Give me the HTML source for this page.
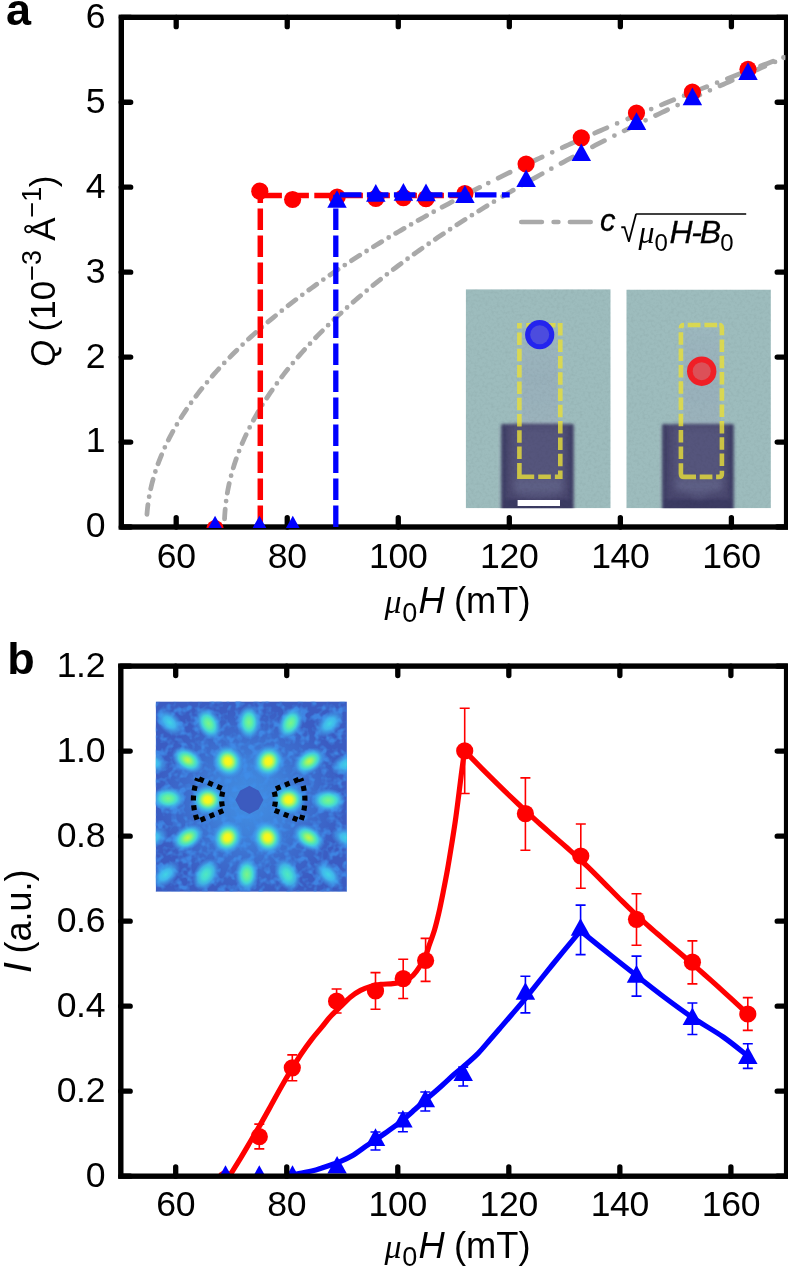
<!DOCTYPE html>
<html lang="en">
<head>
<meta charset="utf-8">
<title>Figure: Q and I versus magnetic field</title>
<style>
html,body{margin:0;padding:0;background:#fff;}
body{width:788px;height:1273px;overflow:hidden;font-family:"Liberation Sans", sans-serif;}
svg{display:block;}
</style>
</head>
<body>
<svg width="788" height="1273" viewBox="0 0 788 1273" font-family='"Liberation Sans", sans-serif'>
<defs>
<filter id="blur2" x="-20%" y="-20%" width="140%" height="140%"><feGaussianBlur stdDeviation="1.6"/></filter>
<filter id="blur3" x="-30%" y="-30%" width="160%" height="160%"><feGaussianBlur stdDeviation="3"/></filter>
<filter id="grain" x="0" y="0" width="100%" height="100%" color-interpolation-filters="sRGB">
<feTurbulence type="fractalNoise" baseFrequency="0.35" numOctaves="2" seed="7" result="n"/>
<feColorMatrix in="n" type="matrix" values="0 0 0 0 0  0 0 0 0 0  0 0 0 0 0  0.9 0 0 0 -0.38"/>
</filter>
<filter id="blur05" x="-10%" y="-10%" width="120%" height="120%"><feGaussianBlur stdDeviation="0.55"/></filter>
<linearGradient id="strip" x1="0" x2="0" y1="0" y2="1"><stop offset="0" stop-color="#9cb7be"/><stop offset="0.5" stop-color="#98b0ba"/><stop offset="0.9" stop-color="#9ab2bb"/><stop offset="1" stop-color="#a3b8bf"/></linearGradient>
<radialGradient id="haze"><stop offset="0" stop-color="#45a0ee" stop-opacity="0.75"/><stop offset="0.35" stop-color="#429aea" stop-opacity="0.6"/><stop offset="0.7" stop-color="#3f8ee4" stop-opacity="0.3"/><stop offset="1" stop-color="#3f8ee4" stop-opacity="0"/></radialGradient>
<radialGradient id="sp-y"><stop offset="0" stop-color="#fdf81a"/><stop offset="0.2" stop-color="#f2f622"/><stop offset="0.36" stop-color="#a4f464"/><stop offset="0.52" stop-color="#50e6c0" stop-opacity="0.96"/><stop offset="0.7" stop-color="#40c0ec" stop-opacity="0.75"/><stop offset="0.87" stop-color="#40a6f0" stop-opacity="0.35"/><stop offset="1" stop-color="#40a0f0" stop-opacity="0"/></radialGradient>
<radialGradient id="sp-g"><stop offset="0" stop-color="#7cf488"/><stop offset="0.28" stop-color="#5ceea8"/><stop offset="0.5" stop-color="#44dcd8" stop-opacity="0.94"/><stop offset="0.72" stop-color="#40b8f0" stop-opacity="0.65"/><stop offset="0.9" stop-color="#40a4f0" stop-opacity="0.25"/><stop offset="1" stop-color="#40a0f0" stop-opacity="0"/></radialGradient>
<radialGradient id="sp-h"><stop offset="0" stop-color="#c4f648"/><stop offset="0.2" stop-color="#98f46c"/><stop offset="0.4" stop-color="#58eaac"/><stop offset="0.58" stop-color="#42d4e0" stop-opacity="0.92"/><stop offset="0.76" stop-color="#40b4f0" stop-opacity="0.6"/><stop offset="0.9" stop-color="#40a4f0" stop-opacity="0.25"/><stop offset="1" stop-color="#40a0f0" stop-opacity="0"/></radialGradient>
<radialGradient id="sp-c"><stop offset="0" stop-color="#50e8c0"/><stop offset="0.3" stop-color="#44e0d4" stop-opacity="0.95"/><stop offset="0.6" stop-color="#40c4ec" stop-opacity="0.8"/><stop offset="0.82" stop-color="#40a8f0" stop-opacity="0.4"/><stop offset="1" stop-color="#40a0f0" stop-opacity="0"/></radialGradient>
<radialGradient id="sp-b"><stop offset="0" stop-color="#40d4e4"/><stop offset="0.4" stop-color="#40c0f0" stop-opacity="0.9"/><stop offset="0.75" stop-color="#40a4f0" stop-opacity="0.45"/><stop offset="1" stop-color="#40a0f0" stop-opacity="0"/></radialGradient>
<filter id="mottle" x="0" y="0" width="100%" height="100%" color-interpolation-filters="sRGB">
<feTurbulence type="fractalNoise" baseFrequency="0.14" numOctaves="2" seed="11" result="n"/>
<feColorMatrix in="n" type="matrix" values="0 0 0 0 0.25  0 0 0 0 0.56  0 0 0 0 0.92  3.4 0 0 0 -1.5"/>
</filter>
</defs>

<rect width="788" height="1273" fill="#fff"/>
<rect x="121.3" y="17.3" width="665.3" height="509.7" fill="none" stroke="#000" stroke-width="5.4" stroke-linejoin="miter"/>
<path d="M176.2 17.3V26.7M176.2 527V517.6M287.24 17.3V26.7M287.24 527V517.6M398.28 17.3V26.7M398.28 527V517.6M509.32 17.3V26.7M509.32 527V517.6M620.36 17.3V26.7M620.36 527V517.6M731.4 17.3V26.7M731.4 527V517.6M121.3 527H130.7M786.6 527H777.2M121.3 442.05H130.7M786.6 442.05H777.2M121.3 357.1H130.7M786.6 357.1H777.2M121.3 272.15H130.7M786.6 272.15H777.2M121.3 187.2H130.7M786.6 187.2H777.2M121.3 102.25H130.7M786.6 102.25H777.2M121.3 17.3H130.7M786.6 17.3H777.2" fill="none" stroke="#000" stroke-width="5.3" stroke-linecap="round"/>
<clipPath id="clip-a"><rect x="121.3" y="17.3" width="664" height="510.7"/></clipPath>
<g id="panel-a" clip-path="url(#clip-a)">
<path d="M146.96 514.31L147.23 511.09L147.55 507.87L147.94 504.66M149.16 496.65h0.01M150.73 488.71L151.46 485.55L152.24 482.4L153.08 479.27M155.39 471.51h0.01M158.02 463.84L159.16 460.81L160.34 457.79L161.57 454.79M164.82 447.37h0.01M168.33 440.07L169.81 437.18L171.32 434.31L172.87 431.46M176.89 424.43h0.01M181.13 417.53L182.88 414.8L184.65 412.08L186.46 409.39M191.1 402.75h0.01M195.91 396.23L197.88 393.65L199.87 391.09L201.88 388.55M207.01 382.28h0.01M212.27 376.12L214.41 373.69L216.57 371.27L218.75 368.87M224.27 362.94h0.01M229.9 357.11L232.18 354.8L234.47 352.51L236.78 350.24M242.61 344.62h0.01M248.53 339.08L250.92 336.89L253.33 334.72L255.75 332.56M261.83 327.21h0.01M267.99 321.95L270.47 319.86L272.97 317.79L275.47 315.73M281.77 310.63h0.01M288.12 305.61L290.68 303.62L293.25 301.64L295.83 299.67M302.3 294.79h0.01M308.82 289.99L311.44 288.08L314.07 286.18L316.71 284.29M323.32 279.62h0.01M329.98 275.01L332.66 273.18L335.34 271.35L338.03 269.54M344.77 265.05h0.01M351.55 260.61L354.27 258.85L357 257.09L359.73 255.35M366.58 251.02h0.01M373.45 246.74L376.22 245.04L378.98 243.35L381.75 241.66M388.69 237.48h0.01M395.66 233.35L398.46 231.71L401.26 230.07L404.06 228.44M411.08 224.4h0.01M418.12 220.4L420.95 218.81L423.78 217.22L426.61 215.64M433.7 211.73h0.01M442.1 207.15L445.47 205.33L448.85 203.52L452.23 201.72M460.68 197.25h0.01M469.27 192.78L472.72 191L476.16 189.23L479.62 187.46M488.26 183.09h0.01M498.18 178.13L501.16 176.65L504.15 175.18L507.14 173.71L510.13 172.25M520.11 167.42h0.01M530.12 162.63L533.13 161.21L536.14 159.79L539.15 158.37L542.17 156.96M552.22 152.28h0.01M562.3 147.66L565.33 146.28L568.36 144.9L571.4 143.53L574.44 142.16M584.56 137.64h0.01M594.7 133.15L597.75 131.82L600.8 130.48L603.86 129.15L606.91 127.83M617.1 123.43h0.01M627.73 118.9L630.92 117.55L634.12 116.2L637.32 114.85L640.52 113.51M651.19 109.07h0.01M661.45 104.85L664.53 103.58L667.61 102.33L670.7 101.07L673.78 99.82M684.07 95.67h0.01M694.37 91.56L697.46 90.33L700.56 89.11L703.66 87.89L706.76 86.67M717.08 82.63h0.01M727.42 78.62L730.53 77.42L733.64 76.22L736.75 75.03L739.86 73.84M750.22 69.9h0.01M760.6 65.99L763.72 64.82L766.84 63.66L769.96 62.49L773.08 61.33M783.48 57.48h0.01M793.89 53.66L797.35 52.4L800.8 51.14" fill="none" stroke="#a9a9a9" stroke-width="4.8" stroke-linecap="round" stroke-linejoin="round"/>
<path d="M224.56 518.8L224.72 515.57L224.94 512.34L225.21 509.12M226.1 501.08h0.01M227.32 493.08L227.9 489.89L228.52 486.71L229.2 483.54M231.1 475.68h0.01M233.29 467.89L234.24 464.79L235.24 461.71L236.29 458.65M239.08 451.05h0.01M242.12 443.56L243.41 440.58L244.73 437.63L246.09 434.69M249.64 427.42h0.01M253.4 420.25L254.97 417.42L256.56 414.6L258.18 411.79M262.37 404.87h0.01M266.73 398.05L268.52 395.35L270.33 392.67L272.17 390.01M276.88 383.42h0.01M281.72 376.94L283.7 374.38L285.7 371.83L287.72 369.29M292.84 363.03h0.01M298.08 356.87L300.21 354.43L302.36 352L304.52 349.59M310 343.63h0.01M315.57 337.76L317.82 335.44L320.09 333.13L322.37 330.83M328.13 325.15h0.01M333.97 319.54L336.33 317.32L338.7 315.11L341.08 312.92M347.08 307.49h0.01M353.14 302.13L355.58 300L358.04 297.89L360.5 295.79M366.7 290.58h0.01M372.95 285.45L375.47 283.41L377.99 281.38L380.53 279.36M386.89 274.37h0.01M393.3 269.43L395.88 267.47L398.47 265.52L401.06 263.58M407.57 258.77h0.01M414.12 254.02L416.75 252.13L419.39 250.25L422.03 248.38M428.67 243.75h0.01M435.33 239.16L438.01 237.34L440.69 235.53L443.38 233.72M450.12 229.24h0.01M456.89 224.81L459.61 223.05L462.33 221.3L465.06 219.55M471.89 215.22h0.01M478.75 210.92L481.51 209.22L484.26 207.52L487.03 205.83M493.94 201.63h0.01M502.68 196.39L505.31 194.83L507.94 193.28L510.58 191.73L513.22 190.19M522.04 185.09h0.01M531.15 179.89L533.9 178.34L536.65 176.8L539.4 175.26L542.15 173.72M551.34 168.65h0.01M561.05 163.37L563.98 161.79L566.9 160.22L569.83 158.66L572.76 157.1M582.55 151.94h0.01M592.47 146.78L595.45 145.24L598.44 143.71L601.43 142.18L604.42 140.66M614.41 135.61h0.01M624.11 130.78L627.02 129.33L629.94 127.89L632.87 126.46L635.79 125.03M645.54 120.29h0.01M655.54 115.49L658.54 114.06L661.55 112.63L664.56 111.21L667.57 109.79M677.62 105.09h0.01M687.68 100.43L690.71 99.04L693.74 97.65L696.76 96.27L699.8 94.89M709.9 90.32h0.01M720.02 85.79L723.07 84.44L726.11 83.09L729.16 81.74L732.21 80.4M742.37 75.96h0.01M752.54 71.55L755.6 70.23L758.66 68.92L761.72 67.61L764.78 66.3M774.99 61.97h0.01M785.22 57.67L788.29 56.39L791.36 55.11L794.44 53.83L797.51 52.55M800.8 51.19h0.01" fill="none" stroke="#a9a9a9" stroke-width="4.8" stroke-linecap="round" stroke-linejoin="round"/>
<clipPath id="clip-l"><rect x="465.7" y="289.2" width="145" height="219.1"/></clipPath>
<g id="sem-l" clip-path="url(#clip-l)">
<rect x="465.7" y="289.2" width="145" height="219.1" fill="#9dbcbd"/>
<rect x="521.4" y="328.2" width="36.9" height="99.6" fill="url(#strip)" filter="url(#blur2)"/>
<g filter="url(#blur2)">
<rect x="501.3" y="424" width="72.2" height="97.5" rx="2.5" fill="#48476e"/>
<rect x="501.3" y="424" width="5" height="97.5" fill="#403f66"/>
<rect x="568.5" y="424" width="5" height="97.5" fill="#403f66"/>
<rect x="503.3" y="499.3" width="68.2" height="14" fill="#3b3a62"/>
</g>
<g filter="url(#blur3)">
<path d="M512.8 426.8V488.3Q512.8 497.3 538.4 497.8Q564 497.3 564 488.3V426.8Z" fill="#55547b"/>
<rect x="514.8" y="480.3" width="47.2" height="11" fill="#62638a" opacity="0.8"/>
</g>
<rect x="465.7" y="289.2" width="145" height="219.1" filter="url(#grain)" opacity="0.10"/>
<path d="M519.4 328.4V325.2H521.8M557.7 325.2H560.3V335.5M519.4 463.1V476.7H534.2M560.3 470.5V476.7H554.9M519.4 332.5v12.5M519.4 348.8v12.5M519.4 365.1v12.5M519.4 381.4v12.5M519.4 397.7v12.5M519.4 414v12.5M519.4 430.3v12.5M519.4 446.6v12.5M560.3 339.6v12.5M560.3 355.9v12.5M560.3 372.2v12.5M560.3 388.5v12.5M560.3 404.8v12.5M560.3 421.1v12.5M560.3 437.4v12.5M560.3 453.7v12.5M526.2 325.2h12.8M542.9 325.2h12.7M538.2 476.7h12.7" fill="none" stroke="#e8de38" stroke-opacity="0.8" stroke-width="4.6" stroke-linejoin="miter" filter="url(#blur05)"/>
<circle cx="539.7" cy="334.7" r="14.6" fill="#2424ee"/>
<circle cx="539.7" cy="334.7" r="9.5" fill="#4c4cde"/>
<rect x="517.6" y="500" width="42.4" height="6" fill="#fff"/>
</g>
<clipPath id="clip-r"><rect x="626.3" y="289.5" width="144.6" height="218.8"/></clipPath>
<g id="sem-r" clip-path="url(#clip-r)">
<rect x="626.3" y="289.5" width="144.6" height="218.8" fill="#9dbcbd"/>
<rect x="682.9" y="328" width="37" height="100" fill="url(#strip)" filter="url(#blur2)"/>
<g filter="url(#blur2)">
<rect x="662.2" y="424.2" width="71.4" height="97.3" rx="2.5" fill="#48476e"/>
<rect x="662.2" y="424.2" width="5" height="97.3" fill="#403f66"/>
<rect x="728.6" y="424.2" width="5" height="97.3" fill="#403f66"/>
<rect x="664.2" y="499.3" width="67.4" height="14" fill="#3b3a62"/>
</g>
<g filter="url(#blur3)">
<path d="M673.7 427V485.3L689.9 494.3L698.9 498.8L707.9 494.3L724.1 485.3V427Z" fill="#55547b"/>
<rect x="675.7" y="480.3" width="46.4" height="11" fill="#62638a" opacity="0.8"/>
</g>
<rect x="626.3" y="289.5" width="144.6" height="218.8" filter="url(#grain)" opacity="0.10"/>
<path d="M680.9 328.2V328.2Q680.9 325 684.1 325M719.3 325Q721.9 325 721.9 328.2V335.3M680.9 463.3V473.7Q680.9 476.9 684.1 476.9H696M721.9 470.7V473.7Q721.9 476.9 718.7 476.9H716.1M680.9 332.3v12.5M680.9 348.6v12.5M680.9 364.9v12.5M680.9 381.2v12.5M680.9 397.5v12.5M680.9 413.8v12.5M680.9 430.1v12.5M680.9 446.4v12.5M721.9 339.4v12.5M721.9 355.7v12.5M721.9 372v12.5M721.9 388.3v12.5M721.9 404.6v12.5M721.9 420.9v12.5M721.9 437.2v12.5M721.9 453.5v12.5M687.7 325h12.8M704.4 325h12.7M699.7 476.9h12.7" fill="none" stroke="#e8de38" stroke-opacity="0.8" stroke-width="4.6" stroke-linejoin="round" filter="url(#blur05)"/>
<circle cx="701.7" cy="371.2" r="14.7" fill="#f01e26"/>
<circle cx="701.7" cy="371.2" r="9.0" fill="#dc5058"/>
</g>

<path d="M260.3 527V195.5M260.3 195.5H470" fill="none" stroke="#ff0000" stroke-width="5.5" stroke-dasharray="21.6 5.4" stroke-dashoffset="0"/>
<circle cx="215.06" cy="528.6" r="8.6" fill="#ff0000"/>
<circle cx="259.8" cy="191.2" r="8.6" fill="#ff0000"/>
<circle cx="292.6" cy="199.5" r="8.6" fill="#ff0000"/>
<circle cx="337.2" cy="197" r="8.6" fill="#ff0000"/>
<circle cx="375.8" cy="198.3" r="8.6" fill="#ff0000"/>
<circle cx="403.4" cy="197.6" r="8.6" fill="#ff0000"/>
<circle cx="426" cy="198.7" r="8.6" fill="#ff0000"/>
<circle cx="464.9" cy="193.7" r="8.6" fill="#ff0000"/>
<circle cx="526.1" cy="164" r="8.6" fill="#ff0000"/>
<circle cx="581.3" cy="137.8" r="8.6" fill="#ff0000"/>
<circle cx="636.5" cy="113.1" r="8.6" fill="#ff0000"/>
<circle cx="692.4" cy="92.2" r="8.6" fill="#ff0000"/>
<circle cx="748" cy="69.3" r="8.6" fill="#ff0000"/>
<path d="M335.8 527V194.8M339.9 194.8H509.7" fill="none" stroke="#0000ff" stroke-width="5.3" stroke-dasharray="21.6 5.4" stroke-dashoffset="0"/>
<path d="M215.06 515.7L224.81 533.3H205.31Z" fill="#0000ff"/>
<path d="M259.48 515.7L269.23 533.3H249.73Z" fill="#0000ff"/>
<path d="M292.79 515.7L302.54 533.3H283.04Z" fill="#0000ff"/>
<path d="M337 190.2L346.75 207.8H327.25Z" fill="#0000ff"/>
<path d="M375.8 184.1L385.55 201.7H366.05Z" fill="#0000ff"/>
<path d="M403.4 183.1L413.15 200.7H393.65Z" fill="#0000ff"/>
<path d="M426 183.6L435.75 201.2H416.25Z" fill="#0000ff"/>
<path d="M464.9 185.3L474.65 202.9H455.15Z" fill="#0000ff"/>
<path d="M526.1 169.4L535.85 187H516.35Z" fill="#0000ff"/>
<path d="M581.3 143.4L591.05 161H571.55Z" fill="#0000ff"/>
<path d="M636.5 112.3L646.25 129.9H626.75Z" fill="#0000ff"/>
<path d="M692.4 87.6L702.15 105.2H682.65Z" fill="#0000ff"/>
<path d="M748 62.3L757.75 79.9H738.25Z" fill="#0000ff"/>
</g>
<g font-size="35.6" fill="#000" letter-spacing="-0.3">
<text x="105.2" y="537.4" text-anchor="end">0</text>
<text x="105.2" y="452.45" text-anchor="end">1</text>
<text x="105.2" y="367.5" text-anchor="end">2</text>
<text x="105.2" y="282.55" text-anchor="end">3</text>
<text x="105.2" y="197.6" text-anchor="end">4</text>
<text x="105.2" y="112.65" text-anchor="end">5</text>
<text x="105.2" y="27.7" text-anchor="end">6</text>
<text x="176.2" y="568.3" text-anchor="middle">60</text>
<text x="287.24" y="568.3" text-anchor="middle">80</text>
<text x="398.28" y="568.3" text-anchor="middle">100</text>
<text x="509.32" y="568.3" text-anchor="middle">120</text>
<text x="620.36" y="568.3" text-anchor="middle">140</text>
<text x="731.4" y="568.3" text-anchor="middle">160</text>
<text x="105.2" y="1186.6" text-anchor="end">0</text>
<text x="105.2" y="1101.58" text-anchor="end">0.2</text>
<text x="105.2" y="1016.57" text-anchor="end">0.4</text>
<text x="105.2" y="931.55" text-anchor="end">0.6</text>
<text x="105.2" y="846.53" text-anchor="end">0.8</text>
<text x="105.2" y="761.52" text-anchor="end">1.0</text>
<text x="105.2" y="676.5" text-anchor="end">1.2</text>
<text x="175.7" y="1216" text-anchor="middle">60</text>
<text x="286.74" y="1216" text-anchor="middle">80</text>
<text x="397.78" y="1216" text-anchor="middle">100</text>
<text x="508.82" y="1216" text-anchor="middle">120</text>
<text x="619.86" y="1216" text-anchor="middle">140</text>
<text x="730.9" y="1216" text-anchor="middle">160</text>
</g>
<g fill="#000" font-size="36">
<text x="6" y="25.3" font-size="45" font-weight="bold">a</text>
<text x="7.3" y="674" font-size="45" font-weight="bold">b</text>
<text font-size="35" transform="translate(54.6 367) rotate(-90)"><tspan font-style="italic">Q</tspan><tspan dx="-1.4"> (10</tspan><tspan font-size="27" dy="-13.2">−3</tspan><tspan dy="13.2" dx="-0.5"> Å</tspan><tspan font-size="27" dy="-13.2">−1</tspan><tspan dy="13.2" dx="-0.5">)</tspan></text>
<text font-size="36" transform="translate(30.6 973) rotate(-90)"><tspan font-style="italic" font-size="39.5">I</tspan><tspan dx="-1.5"> (a.u.)</tspan></text>
<text x="384.6" y="613.3" font-size="36.3"><tspan font-family="'Liberation Serif', 'DejaVu Serif', serif" font-style="italic" font-size="34">μ</tspan><tspan font-size="27" dy="8.5" dx="0.5">0</tspan><tspan dy="-8.5" dx="1.2" font-style="italic">H</tspan><tspan dx="-0.8"> (mT)</tspan></text>
<text x="384.6" y="1257.8" font-size="36.3"><tspan font-family="'Liberation Serif', 'DejaVu Serif', serif" font-style="italic" font-size="34">μ</tspan><tspan font-size="27" dy="8.5" dx="0.5">0</tspan><tspan dy="-8.5" dx="1.2" font-style="italic">H</tspan><tspan dx="-0.8"> (mT)</tspan></text>
<path d="M521.25 222H541.9M553.6 222H558.4M569.9 222H590.7" fill="none" stroke="#a9a9a9" stroke-width="4.6" stroke-linecap="round"/>
<text x="600" y="231.4" font-size="31" font-style="italic" stroke="#000" stroke-width="0.3">c</text>
<text transform="translate(620.6 242.2) scale(0.85 1)" font-size="35.6">√</text>
<path d="M636.2 213.95H746.2" fill="none" stroke="#000" stroke-width="1.5"/>
<text x="638.5" y="242.6" font-size="32"><tspan font-family="'Liberation Serif', 'DejaVu Serif', serif" font-style="italic" font-size="32">μ</tspan><tspan font-size="24" dy="8.2" dx="0">0</tspan><tspan dy="-8.2" dx="1.5" font-style="italic" stroke="#000" stroke-width="0.3">H<tspan dx="-1.2">-</tspan><tspan dx="-2.2">B</tspan></tspan><tspan font-size="24" dy="8.2" dx="-0.8">0</tspan></text>
</g>

<clipPath id="clip-b"><rect x="121.3" y="666.1" width="666.7" height="510.1"/></clipPath>
<g id="panel-b" clip-path="url(#clip-b)">
<clipPath id="clip-d"><rect x="155.7" y="701.4" width="191.2" height="190.4"/></clipPath>
<g id="diffraction" clip-path="url(#clip-d)">
<rect x="155.7" y="701.4" width="191.2" height="190.4" fill="#3b5cc2"/>
<circle cx="249.4" cy="799.8" r="95" fill="url(#haze)"/>
<rect x="155.7" y="701.4" width="191.2" height="190.4" filter="url(#mottle)" opacity="0.8"/>
<ellipse cx="0" cy="0" rx="17" ry="15.5" transform="translate(207.8 799.8) rotate(180)" fill="url(#sp-y)"/>
<ellipse cx="0" cy="0" rx="17" ry="15.5" transform="translate(288.7 799.8) rotate(0)" fill="url(#sp-y)"/>
<ellipse cx="0" cy="0" rx="17" ry="15.5" transform="translate(228 761.3) rotate(-119.07)" fill="url(#sp-y)"/>
<ellipse cx="0" cy="0" rx="17" ry="15.5" transform="translate(268.4 761.3) rotate(-63.73)" fill="url(#sp-y)"/>
<ellipse cx="0" cy="0" rx="17" ry="15.5" transform="translate(227.5 837.6) rotate(120.09)" fill="url(#sp-y)"/>
<ellipse cx="0" cy="0" rx="17" ry="15.5" transform="translate(267.6 837.6) rotate(64.29)" fill="url(#sp-y)"/>
<ellipse cx="0" cy="0" rx="17.5" ry="12" transform="translate(208.5 723.6) rotate(-118.22)" fill="url(#sp-g)"/>
<ellipse cx="0" cy="0" rx="17.5" ry="12" transform="translate(248.9 722.3) rotate(-90.37)" fill="url(#sp-g)"/>
<ellipse cx="0" cy="0" rx="17.5" ry="12" transform="translate(290.5 723.1) rotate(-61.82)" fill="url(#sp-g)"/>
<ellipse cx="0" cy="0" rx="17.5" ry="12" transform="translate(187.7 760) rotate(-147.18)" fill="url(#sp-h)"/>
<ellipse cx="0" cy="0" rx="17.5" ry="12" transform="translate(309.2 761.3) rotate(-32.77)" fill="url(#sp-h)"/>
<ellipse cx="0" cy="0" rx="17.5" ry="12" transform="translate(168.2 798.5) rotate(-179.08)" fill="url(#sp-g)"/>
<ellipse cx="0" cy="0" rx="17.5" ry="12" transform="translate(328.2 800.4) rotate(0.44)" fill="url(#sp-g)"/>
<ellipse cx="0" cy="0" rx="17.5" ry="12" transform="translate(187.7 837.6) rotate(148.51)" fill="url(#sp-h)"/>
<ellipse cx="0" cy="0" rx="17.5" ry="12" transform="translate(308.7 837.6) rotate(32.51)" fill="url(#sp-h)"/>
<ellipse cx="0" cy="0" rx="17.5" ry="12" transform="translate(205.9 874.5) rotate(120.21)" fill="url(#sp-c)"/>
<ellipse cx="0" cy="0" rx="17.5" ry="12" transform="translate(246.8 874.5) rotate(91.99)" fill="url(#sp-g)"/>
<ellipse cx="0" cy="0" rx="17.5" ry="12" transform="translate(287.4 874.5) rotate(63.04)" fill="url(#sp-c)"/>
<ellipse cx="0" cy="0" rx="17" ry="10.5" transform="translate(169.5 722.3) rotate(-135.87)" fill="url(#sp-b)"/>
<ellipse cx="0" cy="0" rx="17" ry="10.5" transform="translate(329.5 723.6) rotate(-43.57)" fill="url(#sp-b)"/>
<ellipse cx="0" cy="0" rx="17" ry="10.5" transform="translate(165.6 874.5) rotate(138.29)" fill="url(#sp-b)"/>
<ellipse cx="0" cy="0" rx="17" ry="10.5" transform="translate(328.2 874.5) rotate(43.47)" fill="url(#sp-b)"/>
<ellipse cx="0" cy="0" rx="17" ry="10.5" transform="translate(347 764) rotate(-20.14)" fill="url(#sp-b)"/>
<ellipse cx="0" cy="0" rx="17" ry="10.5" transform="translate(347 838) rotate(21.38)" fill="url(#sp-b)"/>
<ellipse cx="0" cy="0" rx="17" ry="10.5" transform="translate(152 762) rotate(-158.79)" fill="url(#sp-b)"/>
<ellipse cx="0" cy="0" rx="17" ry="10.5" transform="translate(152 838) rotate(158.59)" fill="url(#sp-b)"/>
<path d="M262.6 799.8L258.08 808.48L249.4 813L240.72 808.48L236.2 799.8L240.72 791.12L249.4 786.6L258.08 791.12Z" fill="#3c5bbf" stroke="#3c5bbf" stroke-width="1.5" stroke-linejoin="round"/>
<path d="M197.66 778.37A56.0 56.0 0 0 0 197.66 821.23L223.72 810.44A27.8 27.8 0 0 1 223.72 789.16Z" fill="none" stroke="#000" stroke-width="5.2" stroke-dasharray="5 4.8" stroke-dashoffset="2"/>
<path d="M300.68 778.56A55.5 55.5 0 0 1 300.68 821.04L273.42 809.75A26.0 26.0 0 0 0 273.42 789.85Z" fill="none" stroke="#000" stroke-width="5.2" stroke-dasharray="5 4.8" stroke-dashoffset="2"/>
</g>

<path d="M259.3 1124.1V1148.9M254.3 1124.1H264.3M254.3 1148.9H264.3M292.3 1054.9V1080.7M287.3 1054.9H297.3M287.3 1080.7H297.3M336.6 989V1013M331.6 989H341.6M331.6 1013H341.6M375.5 972.6V1009.2M370.5 972.6H380.5M370.5 1009.2H380.5M403.2 959.3V998.5M398.2 959.3H408.2M398.2 998.5H408.2M425.6 938.4V981.4M420.6 938.4H430.6M420.6 981.4H430.6M464.7 708.3V793.5M459.7 708.3H469.7M459.7 793.5H469.7M525.4 777.9V850.3M520.4 777.9H530.4M520.4 850.3H530.4M580.8 824V888.3M575.8 824H585.8M575.8 888.3H585.8M636.5 893.8V945.3M631.5 893.8H641.5M631.5 945.3H641.5M692.4 940.9V983.9M687.4 940.9H697.4M687.4 983.9H697.4M747.8 997.6V1030.4M742.8 997.6H752.8M742.8 1030.4H752.8" fill="none" stroke="#ff0000" stroke-width="1.6"/>
<path d="M227.60 1179.00C228.08 1178.22 228.33 1177.78 230.50 1174.30C232.67 1170.82 237.22 1163.68 240.60 1158.10C243.98 1152.52 247.42 1146.55 250.80 1140.80C254.18 1135.05 257.52 1129.52 260.90 1123.60C264.28 1117.68 267.72 1111.40 271.10 1105.30C274.48 1099.20 277.72 1093.10 281.20 1087.00C284.68 1080.90 288.62 1074.28 292.00 1068.70C295.38 1063.12 298.22 1058.40 301.50 1053.50C304.78 1048.60 308.32 1043.70 311.70 1039.30C315.08 1034.90 318.75 1030.83 321.80 1027.10C324.85 1023.37 326.93 1020.25 330.00 1016.90C333.07 1013.55 336.82 1010.28 340.20 1007.00C343.58 1003.72 346.92 999.97 350.30 997.20C353.68 994.43 357.12 992.18 360.50 990.40C363.88 988.62 367.22 987.50 370.60 986.50C373.98 985.50 377.42 984.85 380.80 984.40C384.18 983.95 387.87 984.07 390.90 983.80C393.93 983.53 396.28 983.48 399.00 982.80C401.72 982.12 404.83 980.95 407.20 979.70C409.57 978.45 411.18 977.38 413.20 975.30C415.22 973.22 417.27 970.32 419.30 967.20C421.33 964.08 423.87 959.92 425.40 956.60C426.93 953.28 426.98 951.73 428.50 947.30C430.02 942.87 432.77 935.77 434.50 930.00C436.23 924.23 437.45 919.03 438.90 912.70C440.35 906.37 441.77 899.20 443.20 892.00C444.63 884.80 446.07 877.57 447.50 869.50C448.93 861.43 450.50 851.65 451.80 843.60C453.10 835.55 454.15 829.25 455.30 821.20C456.45 813.15 457.70 803.08 458.70 795.30C459.70 787.52 460.48 780.83 461.30 774.50C462.12 768.17 463.03 761.23 463.60 757.30C464.17 753.37 464.52 751.97 464.70 750.90L464.70 750.90L473.71 760.16L482.22 768.81L490.28 776.88L497.88 784.40L505.06 791.41L511.85 797.93L518.26 804.00L524.31 809.66L530.03 814.94L535.44 819.86L540.56 824.47L545.41 828.79L550.03 832.86L554.42 836.71L558.61 840.38L562.63 843.89L566.50 847.28L570.24 850.58L573.86 853.82L577.41 857.05L580.88 860.27L584.29 863.49L587.65 866.72L590.96 869.94L594.23 873.16L597.47 876.38L600.69 879.61L603.88 882.83L607.07 886.06L610.26 889.28L613.45 892.51L616.65 895.74L619.87 898.97L623.12 902.20L626.40 905.44L629.72 908.67L633.10 911.91L636.52 915.15L640.01 918.39L643.57 921.64L647.22 924.91L650.97 928.21L654.84 931.59L658.85 935.05L663.01 938.63L667.35 942.35L671.88 946.22L676.62 950.29L681.59 954.56L686.81 959.06L692.29 963.82L698.05 968.86L704.11 974.21L710.49 979.88L717.21 985.91L724.28 992.31L731.73 999.11L739.56 1006.33L747.80 1014.00" fill="none" stroke="#ff0000" stroke-width="5.2" stroke-linejoin="round" stroke-linecap="round"/>
<circle cx="225.5" cy="1178.8" r="8.6" fill="#ff0000"/>
<circle cx="259.3" cy="1136.7" r="8.6" fill="#ff0000"/>
<circle cx="292.3" cy="1067.8" r="8.6" fill="#ff0000"/>
<circle cx="336.6" cy="1001.2" r="8.6" fill="#ff0000"/>
<circle cx="375.5" cy="990.9" r="8.6" fill="#ff0000"/>
<circle cx="403.2" cy="978.7" r="8.6" fill="#ff0000"/>
<circle cx="425.6" cy="960.5" r="8.6" fill="#ff0000"/>
<circle cx="464.7" cy="750.9" r="8.6" fill="#ff0000"/>
<circle cx="525.4" cy="813.7" r="8.6" fill="#ff0000"/>
<circle cx="580.8" cy="856" r="8.6" fill="#ff0000"/>
<circle cx="636.5" cy="919.3" r="8.6" fill="#ff0000"/>
<circle cx="692.4" cy="962.2" r="8.6" fill="#ff0000"/>
<circle cx="747.8" cy="1014" r="8.6" fill="#ff0000"/>
<path d="M375.5 1132V1150M370.5 1132H380.5M370.5 1150H380.5M402.9 1113V1131.7M397.9 1113H407.9M397.9 1131.7H407.9M425.3 1092V1111M420.3 1092H430.3M420.3 1111H430.3M463.2 1067.1V1086M458.2 1067.1H468.2M458.2 1086H468.2M525.4 976.3V1012.9M520.4 976.3H530.4M520.4 1012.9H530.4M580.6 905.1V954.6M575.6 905.1H585.6M575.6 954.6H585.6M636.5 956.1V996.1M631.5 956.1H641.5M631.5 996.1H641.5M692.4 1003V1034.5M687.4 1003H697.4M687.4 1034.5H697.4M747.8 1043.7V1068.4M742.8 1043.7H752.8M742.8 1068.4H752.8" fill="none" stroke="#0000ff" stroke-width="1.6"/>
<path d="M290.00 1179.00C290.90 1178.22 291.78 1175.63 295.40 1174.30C299.02 1172.97 307.30 1172.05 311.70 1171.00C316.10 1169.95 317.08 1169.57 321.80 1168.00C326.52 1166.43 334.93 1163.63 340.00 1161.60C345.07 1159.57 347.80 1158.42 352.20 1155.80C356.60 1153.18 362.52 1148.57 366.40 1145.90C370.28 1143.23 371.78 1142.33 375.50 1139.80C379.22 1137.27 384.13 1134.02 388.70 1130.70C393.27 1127.38 398.50 1123.47 402.90 1119.90C407.30 1116.33 411.37 1112.58 415.10 1109.30C418.83 1106.02 420.90 1104.08 425.30 1100.20C429.70 1096.32 436.77 1090.23 441.50 1086.00C446.23 1081.77 450.12 1077.97 453.70 1074.80C457.28 1071.63 458.93 1070.58 463.00 1067.00C467.07 1063.42 473.60 1057.85 478.10 1053.30C482.60 1048.75 486.35 1043.88 490.00 1039.70C493.65 1035.52 496.43 1032.32 500.00 1028.20C503.57 1024.08 507.15 1019.98 511.40 1015.00C515.65 1010.02 518.57 1006.80 525.50 998.30C532.43 989.80 543.85 975.25 553.00 964.00C562.15 952.75 575.83 936.33 580.40 930.80L580.40 930.80C583.67 933.43 593.73 941.57 600.00 946.60C606.27 951.63 611.98 956.22 618.00 961.00C624.02 965.78 628.43 969.30 636.10 975.30C643.77 981.30 654.72 990.03 664.00 997.00C673.28 1003.97 681.92 1010.43 691.80 1017.10C701.68 1023.77 714.00 1030.53 723.30 1037.00C732.60 1043.47 743.55 1052.75 747.60 1055.90" fill="none" stroke="#0000ff" stroke-width="5.2" stroke-linejoin="round" stroke-linecap="round"/>
<path d="M225.5 1165.2L235.25 1182.8H215.75Z" fill="#0000ff"/>
<path d="M259.3 1165.2L269.05 1182.8H249.55Z" fill="#0000ff"/>
<path d="M292.5 1165.2L302.25 1182.8H282.75Z" fill="#0000ff"/>
<path d="M337.1 1155.9L346.85 1173.5H327.35Z" fill="#0000ff"/>
<path d="M375.5 1128.3L385.25 1145.9H365.75Z" fill="#0000ff"/>
<path d="M402.9 1110L412.65 1127.6H393.15Z" fill="#0000ff"/>
<path d="M425.3 1089.7L435.05 1107.3H415.55Z" fill="#0000ff"/>
<path d="M463.2 1063.3L472.95 1080.9H453.45Z" fill="#0000ff"/>
<path d="M525.4 982.2L535.15 999.8H515.65Z" fill="#0000ff"/>
<path d="M580.5 918.2L590.25 935.8H570.75Z" fill="#0000ff"/>
<path d="M636.5 965.1L646.25 982.7H626.75Z" fill="#0000ff"/>
<path d="M692.4 1007.5L702.15 1025.1H682.65Z" fill="#0000ff"/>
<path d="M747.8 1046.4L757.55 1064H738.05Z" fill="#0000ff"/>
</g>
<rect x="120.8" y="666.1" width="665.8" height="510.1" fill="none" stroke="#000" stroke-width="5.4" stroke-linejoin="miter"/>
<path d="M175.7 666.1V675.5M175.7 1176.2V1166.8M286.74 666.1V675.5M286.74 1176.2V1166.8M397.78 666.1V675.5M397.78 1176.2V1166.8M508.82 666.1V675.5M508.82 1176.2V1166.8M619.86 666.1V675.5M619.86 1176.2V1166.8M730.9 666.1V675.5M730.9 1176.2V1166.8M120.8 1176.2H130.2M786.6 1176.2H777.2M120.8 1091.18H130.2M786.6 1091.18H777.2M120.8 1006.17H130.2M786.6 1006.17H777.2M120.8 921.15H130.2M786.6 921.15H777.2M120.8 836.13H130.2M786.6 836.13H777.2M120.8 751.12H130.2M786.6 751.12H777.2M120.8 666.1H130.2M786.6 666.1H777.2" fill="none" stroke="#000" stroke-width="5.3" stroke-linecap="round"/>
</svg>
</body>
</html>
